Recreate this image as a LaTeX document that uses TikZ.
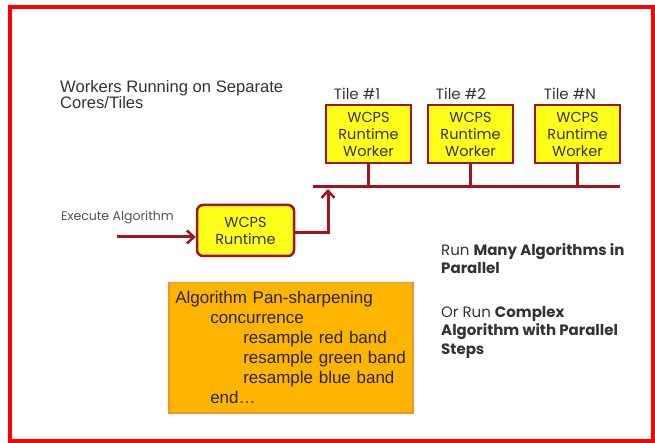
\documentclass[tikz,border=0pt]{standalone}
\usepackage{fontspec}
\setmainfont{Liberation Sans}
\newfontfamily\gothic{Poppins}
\usetikzlibrary{arrows.meta, positioning}
\definecolor{wire}{HTML}{A3151B}
\definecolor{boxy}{HTML}{FFFF1A}
\definecolor{algo}{HTML}{FFB400}
\definecolor{algoline}{HTML}{F5902A}
\definecolor{ink}{HTML}{333333}

\begin{document}
\begin{tikzpicture}[x=1pt,y=-1pt,
		work/.style={draw=wire,fill=boxy,line width=2.5pt,align=center,minimum width=85pt,minimum height=58pt,inner sep=0pt,font=\gothic\fontsize{14.5}{17}\selectfont,text=ink},
		tile/.style={font=\gothic\fontsize{15}{16}\selectfont,text=ink,inner sep=1pt,anchor=south west},
		link/.style={draw=wire,line width=3pt},
		flow/.style={link,-{Straight Barb[length=7pt,width=13pt,line width=2.5pt]}},
		note/.style={anchor=north west,align=left,inner sep=0pt,font=\gothic\fontsize{15}{18.5}\selectfont,text=ink}
	]
		\useasboundingbox (0,0) rectangle (655,443);
		\draw [red,line width=4pt] (10,7) rectangle (653,441);

		\node (head) [anchor=north west,align=left,inner sep=0pt,font=\fontsize{16.6}{16.5}\selectfont,text=ink] at (60,80) {Workers Running on Separate\\Cores/Tiles};

		\node (wrk1) [work] at (368.5,134) {WCPS\\Runtime\\Worker};
		\node (wrk2) [work] at (470.5,134) {WCPS\\Runtime\\Worker};
		\node (wrkn) [work] at (577.5,134) {WCPS\\Runtime\\Worker};
		\node (til1) [tile] at ([shift={(8,-3)}]wrk1.north west) {Tile \#1};
		\node (til2) [tile] at ([shift={(8,-3)}]wrk2.north west) {Tile \#2};
		\node (tiln) [tile] at ([shift={(9,-3)}]wrkn.north west) {Tile \#N};

		\coordinate (busl) at (313,187);
		\coordinate (busr) at (620,187);
		\coordinate (busa) at (328,189);

		\node (rtme) [work,rounded corners=6pt,minimum width=97pt,minimum height=51pt] at (245.5,230.5) {WCPS\\Runtime};
		\node (exec) [anchor=south west,inner sep=0pt,font=\gothic\fontsize{12.5}{14}\selectfont,text=ink!85] at (61,224) {Execute Algorithm};
		\coordinate (exin) at (117,237);

		\node (algo) [draw=algoline,fill=algo,line width=1.5pt,anchor=north west,minimum width=244pt,minimum height=130pt,text width=231pt,inner sep=6.5pt,align=left,font=\fontsize{17}{20}\selectfont,text=black!85] at (168,282) {Algorithm Pan-sharpening\\
			\hspace*{35pt}concurrence\\
			\hspace*{68pt}resample red band\\
			\hspace*{68pt}resample green band\\
			\hspace*{68pt}resample blue band\\
			\hspace*{35pt}end\ldots};

		\node (runa) [note] at (441,243) {Run \textbf{Many Algorithms in}\\\textbf{Parallel}};
		\node (runb) [note] at (441,306) {Or Run \textbf{Complex}\\\textbf{Algorithm with Parallel}\\\textbf{Steps}};

		\draw [link] (busl) -- (busr);
		\draw [link] (wrk1) -- (wrk1 |- busl);
		\draw [link] (wrk2) -- (wrk2 |- busl);
		\draw [link] (wrkn) -- (wrkn |- busl);
		\draw [flow] (exin) -- (rtme.west |- exin);
		\draw [flow] (rtme.east |- 0,233) -| (busa);
	\end{tikzpicture}
\end{document}
